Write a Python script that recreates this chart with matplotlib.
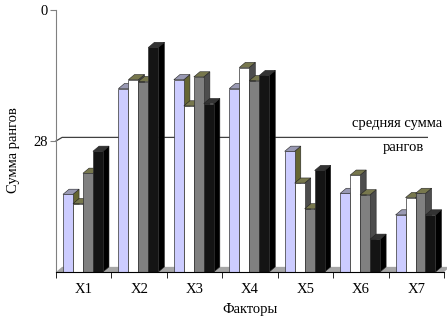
import matplotlib.pyplot as plt
from matplotlib.patches import Polygon

plt.rcParams['font.family'] = ['Liberation Serif', 'DejaVu Serif']

# значения (сумма рангов) по факторам, 4 серии
factors = ['X1', 'X2', 'X3', 'X4', 'X5', 'X6', 'X7']
series1 = [39.4, 16.8, 14.9, 16.8, 30.2, 39.2, 43.8]
series2 = [41.4, 14.9, 20.5, 12.3, 37.0, 35.3, 40.1]
series3 = [34.9, 15.3, 14.3, 15.1, 42.5, 39.5, 39.2]
series4 = [30.2, 8.0, 20.0, 14.0, 34.3, 49.0, 43.8]
mean_rank = 28
y_bottom = 56

# цвета: лицевая грань, боковая, верхняя
faces = ['#CCCCFF', '#FFFFFF', '#808080', '#141414']
sides = ['#666633', '#4D4D4D', '#4D4D4D', '#000000']
tops = ['#9999B3', '#77774D', '#77774D', '#333333']

w = 0.18      # ширина столбика
start = 0.126  # отступ группы от границы категории
dx = 0.11     # глубина по x
dy = 1.1      # глубина по y
fs = 10.5

fig = plt.figure(figsize=(4.47, 3.27), dpi=100)
ax = fig.add_axes([56 / 447, 1 - 272 / 327, 388 / 447, 262 / 327])
ax.set_xlim(-0.5, len(factors) - 0.5)
ax.set_ylim(y_bottom, 0)

# пол
x0, x1 = -0.5, len(factors) - 0.5
ax.add_patch(Polygon([(x0, y_bottom), (x1, y_bottom), (x1 + dx, y_bottom - dy), (x0 + dx, y_bottom - dy)],
                     closed=True, facecolor='#A6A6A6', edgecolor='none', zorder=1, clip_on=False))

# линия средней суммы рангов
ax.plot([x0, x0 + dx, 6.2], [mean_rank, mean_rank - dy * 0.7, mean_rank - dy * 0.7], color='#404040',
        lw=0.9, zorder=1, clip_on=False)

all_series = [series1, series2, series3, series4]
for i in range(len(factors)):
    for s, vals in enumerate(all_series):
        left = i - 0.5 + start + s * w
        v = vals[i]
        z = 2 + i * 10 + s * 2
        ax.bar(left, v - y_bottom, bottom=y_bottom, width=w, align='edge', color=faces[s],
               edgecolor='#333333', linewidth=0.5, zorder=z + 1)
        side = [(left + w, y_bottom), (left + w + dx, y_bottom - dy), (left + w + dx, v - dy), (left + w, v)]
        top = [(left, v), (left + w, v), (left + w + dx, v - dy), (left + dx, v - dy)]
        ax.add_patch(Polygon(side, closed=True, facecolor=sides[s], edgecolor='#222222', lw=0.4,
                             zorder=z, clip_on=False))
        ax.add_patch(Polygon(top, closed=True, facecolor=tops[s], edgecolor='#222222', lw=0.4,
                             zorder=z, clip_on=False))

ax.text(5.66, 24.3, 'средняя сумма', ha='center', va='center', fontsize=fs)
ax.text(5.76, 29.4, 'рангов', ha='center', va='center', fontsize=fs)

# оси
ax.spines['top'].set_visible(False)
ax.spines['right'].set_visible(False)
ax.spines['left'].set_color('#808080')
ax.spines['bottom'].set_color('#000000')
ax.spines['bottom'].set_zorder(200)

ax.set_yticks([0, 28])
ax.set_yticklabels(['0', '28'], fontsize=fs)
ax.tick_params(axis='y', length=4, color='#808080', pad=2)

ax.set_xticks(range(len(factors)))
ax.set_xticklabels(factors, fontsize=fs)
ax.set_xticks([k - 0.5 for k in range(len(factors) + 1)], minor=True)
ax.tick_params(axis='x', which='major', length=0, pad=8)
ax.tick_params(axis='x', which='minor', length=4, direction='out')

ax.set_xlabel('Факторы', fontsize=fs, labelpad=5)
fig.text(14 / 447, 1 - 150 / 327, 'Сумма рангов', rotation=90, ha='center', va='center', fontsize=fs)

fig.savefig('out.png', dpi=100)
